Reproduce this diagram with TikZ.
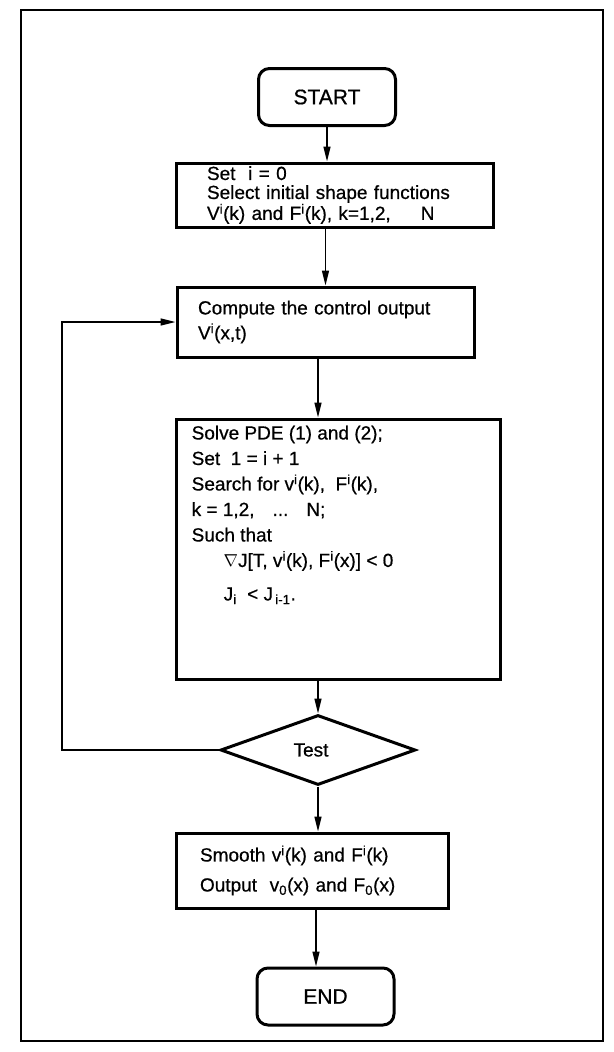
\documentclass[tikz,border=0pt]{standalone}
\usepackage{fontspec}
\setmainfont{Liberation Sans}[FakeBold=0.6]
\usetikzlibrary{shapes.geometric,arrows.meta}
\newcommand{\up}[1]{\textsuperscript{#1}}
\newcommand{\dn}[1]{\textsubscript{#1}}
\begin{document}
\begin{tikzpicture}[x=1pt,y=-1pt,
 box/.style = {draw, line width=3pt, inner sep=0pt, align=left},
 term/.style = {draw, line width=3pt, rounded corners=11pt, minimum width=137pt, minimum height=57pt, font=\fontsize{21}{21}\selectfont},
 test/.style = {draw, diamond, line width=3pt, minimum width=195pt, minimum height=70pt, inner sep=0pt},
 arr/.style = {line width=1.6pt, -{Triangle[length=15pt,width=7pt]}},
 font=\fontsize{19}{19}\selectfont]
\useasboundingbox (0,0) rectangle (613,1052);
\draw [line width=2pt] (21,10) rectangle (603,1041);
\node[term](start) at (327,97) {START};
\node[box, minimum width=317pt, minimum height=64pt, text width=255pt](init) at (334.5,195) {Set\ \ i = 0\\ Select initial shape functions\\ V\up{i}(k) and F\up{i}(k), k=1,2,\hspace{30pt}N};
\node[box, minimum width=297pt, minimum height=70pt, text width=255pt, font=\fontsize{19}{25}\selectfont](comp) at (325.5,322) {Compute the control output\\ V\up{i}(x,t)};
\node[box, minimum width=324pt, minimum height=260pt](solve) at (338,549) {};
\node[anchor=north west, align=left, inner sep=0pt, font=\fontsize{19}{25.5}\selectfont](solvetxt) at ([shift={(17,8)}]solve.north west) {Solve PDE (1) and (2);\\ Set\ \ 1 = i + 1\\ Search for v\up{i}(k),\ \ F\up{i}(k),\\ k = 1,2,\hspace{18pt}...\hspace{18pt}N;\\ Such that\\ \hspace*{32pt}$\nabla$J[T, v\up{i}(k), F\up{i}(x)] < 0\\[8pt] \hspace*{32pt}J\dn{i}\ \ < J\dn{\,i-1}.};
\node[test](test) at (318,750) {\raisebox{-5pt}{Test}\hspace*{14pt}};
\node[box, minimum width=272pt, minimum height=75pt, text width=224pt, font=\fontsize{19}{30}\selectfont](smooth) at (312,870.5) {Smooth v\up{i}(k) and F\up{i}(k)\\ Output\ \ v\dn{0}(x) and F\dn{0}(x)};
\node[term](end) at (325.5,996.5) {END};
\coordinate (back) at (62,750);
\draw[arr] (start) -- (start |- init.north);
\draw[arr] (init.south -| comp) -- (comp);
\draw[arr] (comp.south -| test) -- (test |- solve.north);
\draw[arr] (solve.south -| test) -- (test);
\draw[arr] (test) -- (test |- smooth.north);
\draw[arr] ([xshift=4pt]smooth.south) -- ([xshift=4pt]smooth.south |- end.north);
\draw[arr] (test.west) -- (back) |- (comp.west);
\end{tikzpicture}
\end{document}
